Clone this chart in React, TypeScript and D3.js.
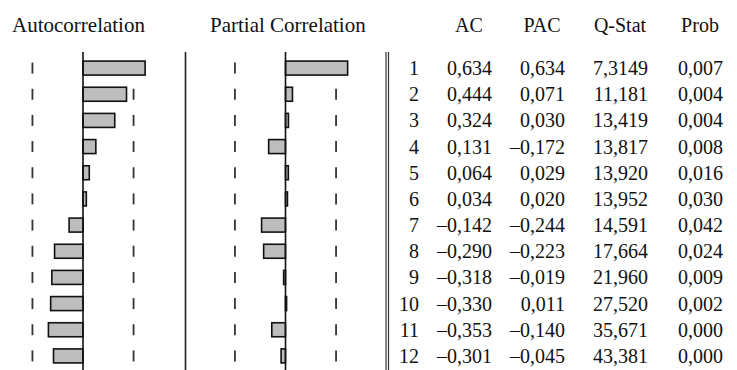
import { useRef, useEffect } from "react";
import * as d3 from "d3";

const lags = [1, 2, 3, 4, 5, 6, 7, 8, 9, 10, 11, 12];
const acValues = [0.634, 0.444, 0.324, 0.131, 0.064, 0.034, -0.142, -0.29, -0.318, -0.33, -0.353, -0.301];
const pacValues = [0.634, 0.071, 0.03, -0.172, 0.029, 0.02, -0.244, -0.223, -0.019, 0.011, -0.14, -0.045];
const qStat = [7.3149, 11.181, 13.419, 13.817, 13.92, 13.952, 14.591, 17.664, 21.96, 27.52, 35.671, 43.381];
const prob = [0.007, 0.004, 0.004, 0.008, 0.016, 0.03, 0.042, 0.024, 0.009, 0.002, 0.0, 0.0];
const panelTitles = ["Autocorrelation", "Partial Correlation"];
const columnTitles = ["AC", "PAC", "Q-Stat", "Prob"];
const confBound = 0.516; // dashed bounds

const WIDTH = 737;
const HEIGHT = 370;

export default function App() {
  const svgRef = useRef<SVGSVGElement>(null);

  useEffect(() => {
    const svg = d3.select(svgRef.current);
    svg.selectAll("*").remove();

    const font = "'Liberation Serif', 'Times New Roman', serif";
    const loc = d3.formatLocale({
      decimal: ",",
      thousands: ".",
      grouping: [3],
      currency: ["", ""],
      minus: "\u2013",
    });
    const f3 = loc.format(".3f");
    const fq = loc.format(".5r");

    const top = 52;
    const y = d3.scaleBand<number>()
      .domain(lags)
      .range([55, 369]);
    const rowY = (lag: number) => (y(lag) as number) + y.bandwidth() / 2;
    const barH = 14;

    // one unit of correlation ~ 98px in both panels
    const xAc = d3.scaleLinear().domain([0, 1]).range([83, 181]);
    const xPac = d3.scaleLinear().domain([0, 1]).range([285.5, 383.5]);

    // titles
    svg.append("text")
      .attr("x", 12).attr("y", 32)
      .attr("font-family", font).attr("font-size", 21).attr("fill", "#111")
      .text(panelTitles[0]);
    svg.append("text")
      .attr("x", 210).attr("y", 32)
      .attr("font-family", font).attr("font-size", 21).attr("fill", "#111")
      .text(panelTitles[1]);

    const colRight = [492, 565, 648, 723];
    const colCenter = [469, 542, 620, 700];
    columnTitles.forEach((t, i) => {
      svg.append("text")
        .attr("x", colCenter[i]).attr("y", 32)
        .attr("text-anchor", "middle")
        .attr("font-family", font).attr("font-size", 20).attr("fill", "#111")
        .text(t);
    });

    // separators
    [185.5].forEach(x => {
      svg.append("line")
        .attr("x1", x).attr("x2", x).attr("y1", top).attr("y2", HEIGHT)
        .attr("stroke", "#222").attr("stroke-width", 1.6);
    });
    [386, 388.5].forEach(x => {
      svg.append("line")
        .attr("x1", x).attr("x2", x).attr("y1", top).attr("y2", HEIGHT)
        .attr("stroke", "#333").attr("stroke-width", 1.2);
    });

    const panels = [
      { x: xAc, values: acValues },
      { x: xPac, values: pacValues },
    ];

    panels.forEach(p => {
      // confidence dashes, one per row
      [-confBound, confBound].forEach(b => {
        svg.append("g")
          .selectAll("line")
          .data(lags)
          .join("line")
          .attr("x1", p.x(b)).attr("x2", p.x(b))
          .attr("y1", d => rowY(d) - 5.5)
          .attr("y2", d => rowY(d) + 5.5)
          .attr("stroke", "#333")
          .attr("stroke-width", 1.8);
      });

      // bars
      svg.append("g")
        .selectAll("rect")
        .data(p.values)
        .join("rect")
        .attr("x", d => Math.min(p.x(0), p.x(d)))
        .attr("width", d => Math.abs(p.x(d) - p.x(0)))
        .attr("y", (d, i) => rowY(lags[i]) - barH / 2)
        .attr("height", barH)
        .attr("fill", "#bdbdbd")
        .attr("stroke", "#111")
        .attr("stroke-width", 1.6);

      // zero line
      svg.append("line")
        .attr("x1", p.x(0)).attr("x2", p.x(0))
        .attr("y1", top).attr("y2", HEIGHT)
        .attr("stroke", "#111").attr("stroke-width", 1.6);
    });

    // table
    const cols: string[][] = [
      acValues.map(f3),
      pacValues.map(f3),
      qStat.map(fq),
      prob.map(f3),
    ];
    const rows = svg.append("g")
      .attr("font-family", font)
      .attr("font-size", 20)
      .attr("fill", "#111")
      .attr("text-anchor", "end");

    lags.forEach((lag, i) => {
      const yy = rowY(lag) + 7;
      rows.append("text").attr("x", 419).attr("y", yy).text(String(lag));
      cols.forEach((c, j) => {
        rows.append("text").attr("x", colRight[j]).attr("y", yy).text(c[i]);
      });
    });
  }, []);

  return (
    <svg
      ref={svgRef}
      width={WIDTH}
      height={HEIGHT}
      viewBox={`0 0 ${WIDTH} ${HEIGHT}`}
      style={{ position: "absolute", left: 0, top: 0, display: "block", background: "#fff" }}
    ></svg>
  );
}
